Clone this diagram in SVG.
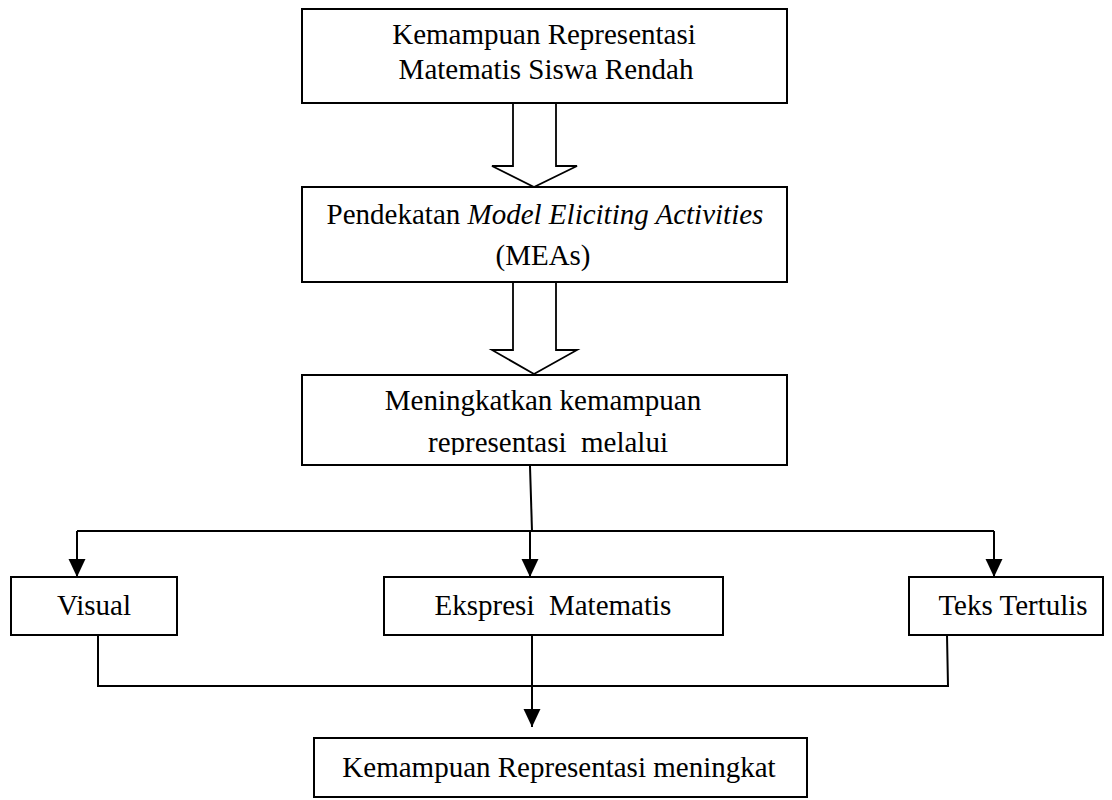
<svg xmlns="http://www.w3.org/2000/svg" width="1112" height="800" viewBox="0 0 1112 800">
<style>
  .box { fill: #ffffff; stroke: #000000; stroke-width: 2; }
  .blk { fill: #ffffff; stroke: #000000; stroke-width: 1.8; stroke-linejoin: miter; }
  .t { font-family: "Liberation Serif", "Times New Roman", serif; font-size: 29px; fill: #000000; text-anchor: middle; }
  .i { font-style: italic; }
  .ln { fill: none; stroke: #000000; stroke-width: 2; }
</style>
<defs>
  <marker id="ah" markerUnits="userSpaceOnUse" markerWidth="18" markerHeight="18" viewBox="0 0 17 16" refX="17" refY="8" orient="auto">
    <path d="M0,0 L17,8 L0,16 Z" fill="#000000"/>
  </marker>
  <clipPath id="clip3"><rect x="302" y="375" width="485" height="80"/></clipPath>
</defs>
<rect width="1112" height="800" fill="#ffffff"/>

<g id="connectors">
  <polygon class="blk" points="513,103 556,103 556,166 577,166 534,187 492,166 513,166"/>
  <polygon class="blk" points="513,282 556,282 556,350 577,350 534,374 492,350 513,350"/>
  <path class="ln" d="M530,466 L532,531"/>
  <path class="ln" d="M77,531 L994,531"/>
  <path class="ln" d="M77,531 L77,577" marker-end="url(#ah)"/>
  <path class="ln" d="M530,531 L530,577" marker-end="url(#ah)"/>
  <path class="ln" d="M994,531 L994,577" marker-end="url(#ah)"/>
  <path class="ln" d="M98,635 L98,686 L948,686 L947,635"/>
  <path class="ln" d="M532,635 L532,727" marker-end="url(#ah)"/>
</g>

<g id="n1">
  <rect class="box" x="302" y="9" width="485" height="94"/>
  <text class="t" x="544" y="44">Kemampuan Representasi</text>
  <text class="t" x="546" y="79">Matematis Siswa Rendah</text>
</g>

<g id="n2">
  <rect class="box" x="302" y="187" width="485" height="95"/>
  <text class="t" x="545" y="224">Pendekatan <tspan class="i">Model Eliciting Activities</tspan></text>
  <text class="t" x="543" y="265">(MEAs)</text>
</g>

<g id="n3">
  <rect class="box" x="302" y="375" width="485" height="90"/>
  <text class="t" x="543" y="410">Meningkatkan kemampuan</text>
  <text class="t" x="548" y="452" clip-path="url(#clip3)" xml:space="preserve">representasi  melalui</text>
</g>

<g id="n4">
  <rect class="box" x="11" y="577" width="166" height="58"/>
  <text class="t" x="94" y="615">Visual</text>
</g>

<g id="n5">
  <rect class="box" x="384" y="577" width="339" height="58"/>
  <text class="t" x="553" y="615" xml:space="preserve">Ekspresi  Matematis</text>
</g>

<g id="n6">
  <rect class="box" x="909" y="577" width="194" height="58"/>
  <text class="t" x="1013" y="615">Teks Tertulis</text>
</g>

<g id="n7">
  <rect class="box" x="314" y="738" width="493" height="59"/>
  <text class="t" x="559" y="777">Kemampuan Representasi meningkat</text>
</g>
</svg>
